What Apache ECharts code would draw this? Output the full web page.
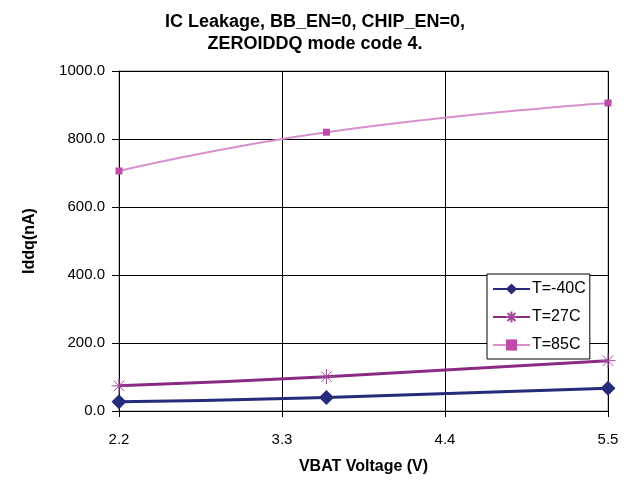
<!DOCTYPE html>
<html>
<head>
<meta charset="utf-8">
<script src="https://cdn.jsdelivr.net/npm/echarts@6/dist/echarts.min.js"></script>
<style>
  html, body { margin: 0; padding: 0; background: #fff; }
  #chart { width: 630px; height: 482px; }
</style>
</head>
<body>
<div id="chart"></div>
<script>
// VBAT voltages where the points were measured
const vbat = [2.2, 3.6, 5.5]
// Iddq (nA) per temperature
const tMinus40 = [27, 40, 67]
const t27 = [74, 101, 148]
const t85 = [706, 820, 906]
const seriesNames = ['T=-40C', 'T=27C', 'T=85C']

const pairs = (ys) => vbat.map((x, i) => [x, ys[i]])

const chart = echarts.init(document.getElementById('chart'))
const font = 'Liberation Sans, Arial, sans-serif'
let option = {
  animation: false,
  textStyle: { fontFamily: font },
  title: {
    text: 'IC Leakage, BB_EN=0, CHIP_EN=0,\nZEROIDDQ mode code 4.',
    left: 'center',
    top: 6,
    textStyle: { fontFamily: font, fontSize: 18, fontWeight: 'bold', color: '#000', lineHeight: 22 }
  },
  legend: {
    orient: 'vertical',
    left: 487,
    top: 274,
    itemGap: 12,
    itemWidth: 37,
    itemHeight: 14,
    padding: [7, 4, 6, 5],
    borderColor: '#000',
    borderWidth: 1,
    backgroundColor: '#fff',
    textStyle: { fontFamily: font, fontSize: 16, color: '#000', padding: [0, 0, 0, -3] },
    data: seriesNames
  },
  grid: {
    left: 119,
    right: 22,
    top: 71,
    bottom: 71,
    show: true,
    borderColor: '#888',
    borderWidth: 1
  },
  xAxis: {
    type: 'value',
    min: 2.2,
    max: 5.5,
    interval: 1.1,
    name: 'VBAT Voltage (V)',
    nameLocation: 'middle',
    nameGap: 48,
    nameTextStyle: { fontFamily: font, fontSize: 16, fontWeight: 'bold', color: '#000' },
    axisLine: { lineStyle: { color: '#000' } },
    axisTick: { lineStyle: { color: '#000' }, length: 6 },
    axisLabel: { fontSize: 15, color: '#000', margin: 21, formatter: (v) => v.toFixed(1) },
    splitLine: { show: true, lineStyle: { color: '#000', width: 1 } }
  },
  yAxis: {
    type: 'value',
    min: 0,
    max: 1000,
    interval: 200,
    name: 'Iddq(nA)',
    nameLocation: 'middle',
    nameGap: 81,
    nameTextStyle: { fontFamily: font, fontSize: 16, fontWeight: 'bold', color: '#000' },
    axisLine: { show: true, lineStyle: { color: '#000' } },
    axisTick: { show: true, lineStyle: { color: '#000' }, length: 7 },
    axisLabel: { fontSize: 15, color: '#000', margin: 14, formatter: (v) => v.toFixed(1) },
    splitLine: { show: true, lineStyle: { color: '#000', width: 1 } }
  },
  series: [
    {
      name: seriesNames[0],
      type: 'line',
      smooth: true,
      data: pairs(tMinus40),
      symbol: 'diamond',
      symbolSize: 15,
      itemStyle: { color: '#262a7a' },
      lineStyle: { color: '#262a7a', width: 3 }
    },
    {
      name: seriesNames[1],
      type: 'line',
      smooth: true,
      data: pairs(t27),
      symbol: 'path://M0,5L10,5M5,0L5,10M1.5,1.5L8.5,8.5M8.5,1.5L1.5,8.5',
      symbolSize: 15,
      itemStyle: { color: '#8a2a84', borderColor: '#a04a9c', borderWidth: 1 },
      lineStyle: { color: '#8a2a84', width: 3 }
    },
    {
      name: seriesNames[2],
      type: 'line',
      smooth: true,
      data: pairs(t85),
      symbol: 'rect',
      symbolSize: 7,
      itemStyle: { color: '#c04aa8' },
      lineStyle: { color: '#d690cf', width: 2 }
    }
  ]
}
chart.setOption(option)
</script>
</body>
</html>
